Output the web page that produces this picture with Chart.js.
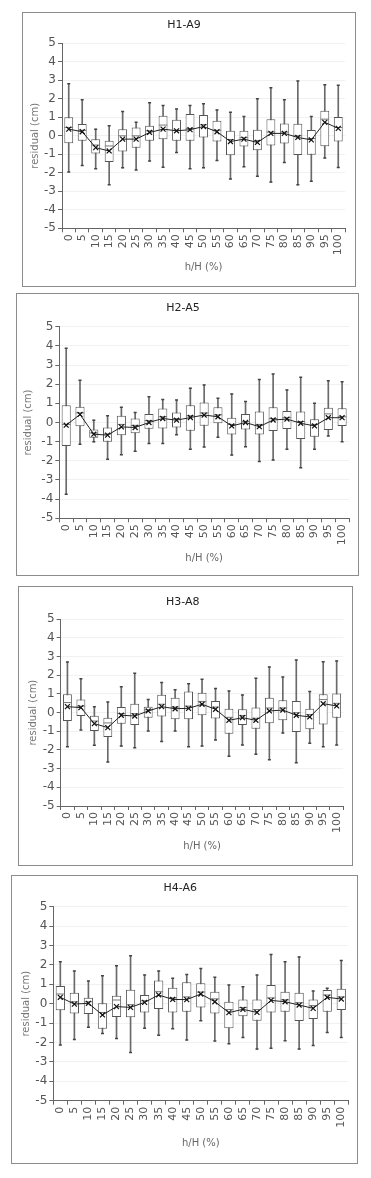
<!DOCTYPE html>
<html>
<head>
<meta charset="utf-8">
<title>residual by relative height</title>
<script src="https://cdn.jsdelivr.net/npm/chart.js@4.4.0/dist/chart.umd.min.js"></script>
<style>
  body { margin: 0; background: #fff; }
  .panel { position: absolute; border: 1px solid #8c8c8c; background: #fff; }
  .panel canvas { display: block; }
</style>
</head>
<body>
<div class="panel" id="p1"><canvas id="c1"></canvas></div>
<div class="panel" id="p2"><canvas id="c2"></canvas></div>
<div class="panel" id="p3"><canvas id="c3"></canvas></div>
<div class="panel" id="p4"><canvas id="c4"></canvas></div>
<script>
const heightLabels = ['0', '5', '10', '15', '20', '25', '30', '35', '40', '45', '50',
  '55', '60', '65', '70', '75', '80', '85', '90', '95', '100'];
const yTicks = [-5, -4, -3, -2, -1, 0, 1, 2, 3, 4, 5];

// H1-A9
const h1Min = [-1.95, -1.6, -1.78, -2.64, -1.73, -1.85, -1.36, -1.7, -0.9, -1.78, -1.73, -1.33, -2.33, -1.67, -2.18, -2.5, -1.44, -2.65, -2.45, -1.2, -1.71];
const h1Q1 = [-0.4, -0.27, -0.95, -1.42, -0.85, -0.64, -0.27, -0.18, -0.27, -0.27, -0.09, -0.31, -1.05, -0.58, -0.78, -0.53, -0.42, -1.04, -1.02, -0.56, -0.31];
const h1Median = [0.45, 0.3, -0.5, -0.55, 0.0, 0.0, 0.27, 0.58, 0.3, 0.4, 0.6, 0.3, -0.2, -0.1, -0.25, 0.2, 0.2, 0.0, -0.15, 0.9, 0.45];
const h1Q3 = [1.0, 0.64, -0.18, -0.27, 0.36, 0.45, 0.55, 1.09, 0.87, 1.18, 1.13, 0.82, 0.27, 0.27, 0.33, 0.89, 0.67, 0.65, 0.31, 1.36, 1.02];
const h1Max = [2.82, 1.95, 0.36, 0.55, 1.31, 0.73, 1.78, 1.64, 1.45, 1.64, 1.73, 1.4, 1.27, 1.05, 2.0, 2.6, 1.95, 2.96, 1.05, 2.76, 2.73];
const h1Mean = [0.36, 0.22, -0.64, -0.82, -0.18, -0.18, 0.18, 0.36, 0.27, 0.33, 0.5, 0.22, -0.31, -0.18, -0.36, 0.13, 0.13, -0.09, -0.22, 0.73, 0.4];

// H2-A5
const h2Min = [-3.75, -1.13, -1.01, -1.92, -1.68, -1.5, -1.1, -1.1, -0.64, -1.39, -1.28, -0.77, -1.7, -1.26, -2.04, -1.96, -1.4, -2.36, -1.4, -0.7, -1.0];
const h2Q1 = [-1.22, -0.19, -0.8, -1.01, -0.66, -0.56, -0.33, -0.31, -0.26, -0.43, -0.17, -0.04, -0.62, -0.36, -0.62, -0.44, -0.34, -0.86, -0.74, -0.39, -0.18];
const h2Median = [-0.1, 0.5, -0.55, -0.6, -0.1, -0.15, 0.1, 0.3, 0.2, 0.35, 0.5, 0.4, -0.1, 0.05, -0.1, 0.2, 0.25, 0.05, -0.1, 0.45, 0.3];
const h2Q3 = [0.9, 0.82, -0.37, -0.26, 0.35, 0.21, 0.44, 0.73, 0.52, 0.9, 1.05, 0.79, 0.25, 0.44, 0.57, 0.79, 0.6, 0.57, 0.17, 0.77, 0.74];
const h2Max = [3.87, 2.2, 0.12, 0.35, 0.79, 0.52, 1.34, 1.2, 1.17, 1.79, 1.96, 1.26, 1.49, 1.09, 2.25, 2.53, 1.7, 2.36, 1.0, 2.18, 2.13];
const h2Mean = [-0.14, 0.42, -0.61, -0.66, -0.23, -0.26, 0.0, 0.21, 0.12, 0.26, 0.39, 0.3, -0.18, 0.0, -0.22, 0.13, 0.18, -0.04, -0.18, 0.25, 0.25];

// H3-A8
const h3Min = [-1.82, -0.93, -1.75, -2.64, -1.79, -1.88, -0.98, -1.55, -0.98, -1.82, -1.79, -1.46, -2.34, -1.73, -2.23, -2.52, -1.09, -2.68, -1.64, -1.82, -1.73];
const h3Q1 = [-0.45, -0.18, -0.98, -1.3, -0.59, -0.66, -0.27, -0.21, -0.36, -0.36, -0.14, -0.32, -1.13, -0.66, -0.86, -0.57, -0.41, -1.04, -0.89, -0.63, -0.27];
const h3Median = [0.54, 0.35, -0.45, -0.55, -0.05, -0.05, 0.15, 0.45, 0.3, 0.35, 0.6, 0.3, -0.25, -0.15, -0.3, 0.25, 0.25, 0.0, -0.1, 0.7, 0.5];
const h3Q3 = [0.98, 0.7, -0.16, -0.27, 0.3, 0.48, 0.32, 0.96, 0.8, 1.13, 1.07, 0.63, 0.21, 0.18, 0.27, 0.8, 0.66, 0.63, 0.21, 0.98, 1.02];
const h3Max = [2.71, 1.82, 0.32, 0.57, 1.39, 2.11, 0.71, 1.61, 1.23, 1.55, 1.79, 1.3, 1.16, 0.95, 1.84, 2.45, 1.91, 2.82, 1.13, 2.73, 2.77];
const h3Mean = [0.32, 0.27, -0.59, -0.8, -0.14, -0.18, 0.09, 0.32, 0.21, 0.23, 0.45, 0.18, -0.41, -0.27, -0.41, 0.09, 0.14, -0.14, -0.23, 0.48, 0.36];

// H4-A6
const h4Min = [-2.13, -1.84, -1.22, -1.53, -1.79, -2.51, -1.27, -1.63, -1.29, -1.87, -0.88, -1.92, -2.06, -1.74, -2.34, -2.3, -1.91, -2.34, -2.16, -1.48, -1.74];
const h4Q1 = [-0.34, -0.5, -0.53, -1.29, -0.69, -0.7, -0.45, -0.27, -0.45, -0.41, -0.19, -0.5, -1.27, -0.65, -0.88, -0.46, -0.41, -0.89, -0.79, -0.41, -0.33];
const h4Median = [0.5, 0.1, 0.1, -0.45, 0.19, -0.05, 0.15, 0.62, 0.3, 0.35, 0.6, 0.25, -0.3, -0.2, -0.3, 0.3, 0.2, 0.05, -0.1, 0.45, 0.35];
const h4Q3 = [0.91, 0.57, 0.31, 0.02, 0.41, 0.72, 0.45, 1.2, 0.82, 1.1, 1.05, 0.62, 0.1, 0.22, 0.22, 0.96, 0.62, 0.57, 0.22, 0.7, 0.77];
const h4Max = [2.16, 1.68, 1.17, 1.44, 1.96, 2.47, 1.48, 1.68, 1.31, 1.51, 1.82, 1.36, 0.96, 0.88, 1.48, 2.54, 2.16, 2.41, 0.65, 0.79, 2.23];
const h4Mean = [0.33, -0.02, 0.02, -0.58, -0.15, -0.19, 0.07, 0.45, 0.22, 0.21, 0.5, 0.1, -0.46, -0.29, -0.45, 0.17, 0.1, -0.07, -0.24, 0.33, 0.24];

const panels = [
  { canvas: 'c1', box: 'p1', title: 'H1-A9', left: 22, top: 12, width: 334, height: 275,
    plotLeft: 39, plotTop: 30.3, axisHeight: 57.7, padRight: 10, titleY: 12, xTitleBottom: 19, yTitleX: 12,
    min: h1Min, q1: h1Q1, median: h1Median, q3: h1Q3, max: h1Max, mean: h1Mean },
  { canvas: 'c2', box: 'p2', title: 'H2-A5', left: 16, top: 293, width: 343, height: 283,
    plotLeft: 42.3, plotTop: 32.7, axisHeight: 56.7, padRight: 9, titleY: 14.3, xTitleBottom: 17, yTitleX: 11.5,
    min: h2Min, q1: h2Q1, median: h2Median, q3: h2Q3, max: h2Max, mean: h2Mean },
  { canvas: 'c3', box: 'p3', title: 'H3-A8', left: 18, top: 586, width: 335, height: 280,
    plotLeft: 41.7, plotTop: 32.3, axisHeight: 59, padRight: 5.5, titleY: 14.7, xTitleBottom: 18.3, yTitleX: 14,
    min: h3Min, q1: h3Q1, median: h3Median, q3: h3Q3, max: h3Max, mean: h3Mean },
  { canvas: 'c4', box: 'p4', title: 'H4-A6', left: 11, top: 875, width: 347, height: 289,
    plotLeft: 41.3, plotTop: 30.7, axisHeight: 62.3, padRight: 8.7, titleY: 12.3, xTitleBottom: 19.7, yTitleX: 14.5,
    min: h4Min, q1: h4Q1, median: h4Median, q3: h4Q3, max: h4Max, mean: h4Mean }
];

const fontFamily = "'DejaVu Sans', sans-serif";
const axisColor = '#666';
const textColor = '#555';

function drawPanel(p) {
  const box = document.getElementById(p.box);
  box.style.left = p.left + 'px';
  box.style.top = p.top + 'px';
  box.style.width = (p.width - 2) + 'px';
  box.style.height = (p.height - 2) + 'px';

  const canvas = document.getElementById(p.canvas);
  canvas.width = p.width - 2;
  canvas.height = p.height - 2;

  const titleLine = 13.2;
  const titleTop = p.titleY - titleLine / 2;

  new Chart(canvas.getContext('2d'), {
    type: 'bar',
    data: {
      labels: heightLabels,
      datasets: [
        {
          type: 'line',
          label: 'mean',
          data: p.mean,
          borderColor: '#222',
          borderWidth: 1,
          pointStyle: 'crossRot',
          pointRadius: 3.5,
          pointBorderWidth: 1.2,
          pointBorderColor: '#111',
          fill: false,
          tension: 0,
          order: 0
        },
        {
          type: 'line',
          label: 'median',
          data: p.median,
          showLine: false,
          pointStyle: 'line',
          pointRadius: 4.3,
          pointBorderWidth: 1,
          pointBorderColor: '#777',
          order: 1
        },
        {
          type: 'line',
          label: 'max',
          data: p.max,
          showLine: false,
          pointStyle: 'line',
          pointRadius: 1.5,
          pointBorderWidth: 1.5,
          pointBorderColor: '#444',
          order: 2
        },
        {
          type: 'line',
          label: 'min',
          data: p.min,
          showLine: false,
          pointStyle: 'line',
          pointRadius: 1.5,
          pointBorderWidth: 1.5,
          pointBorderColor: '#444',
          order: 2
        },
        {
          label: 'box',
          data: p.q1.map((v, i) => [v, p.q3[i]]),
          backgroundColor: '#fff',
          borderColor: '#555',
          borderWidth: 1,
          borderSkipped: false,
          grouped: false,
          categoryPercentage: 1,
          barPercentage: 0.66,
          order: 3
        },
        {
          label: 'whisker',
          data: p.min.map((v, i) => [v, p.max[i]]),
          backgroundColor: '#6a6a6a',
          barThickness: 1,
          grouped: false,
          order: 4
        }
      ]
    },
    options: {
      responsive: false,
      animation: false,
      events: [],
      layout: { padding: { top: 0, right: p.padRight, bottom: 0, left: 0 } },
      scales: {
        x: {
          offset: true,
          grid: { display: true, drawOnChartArea: false, offset: true, tickLength: 4, tickColor: axisColor },
          border: { color: axisColor, width: 1 },
          ticks: { autoSkip: false, maxRotation: 90, minRotation: 90, padding: 2, color: textColor,
                   font: { family: fontFamily, size: 11 } },
          title: { display: true, text: 'h/H (%)', color: '#666',
                   font: { family: fontFamily, size: 10 }, padding: { top: 0, bottom: p.xTitleBottom - 6 } },
          afterFit: s => { s.height = p.axisHeight; }
        },
        y: {
          min: yTicks[0],
          max: yTicks[yTicks.length - 1],
          afterBuildTicks: s => { s.ticks = yTicks.map(v => ({ value: v })); },
          grid: { color: '#f1f1f1', tickLength: 4, tickColor: axisColor },
          border: { color: axisColor, width: 1 },
          ticks: { padding: 2, color: textColor, font: { family: fontFamily, size: 12 } },
          title: { display: true, text: 'residual (cm)', color: '#777',
                   font: { family: fontFamily, size: 10 }, padding: { top: p.yTitleX - 6, bottom: 0 } },
          afterFit: s => { s.width = p.plotLeft; }
        }
      },
      plugins: {
        legend: { display: false },
        tooltip: { enabled: false },
        title: {
          display: true,
          text: p.title,
          color: '#222',
          font: { family: fontFamily, size: 11, weight: 'normal' },
          padding: { top: titleTop, bottom: p.plotTop - titleLine - titleTop }
        }
      }
    }
  });
}

panels.forEach(drawPanel);
</script>
</body>
</html>
